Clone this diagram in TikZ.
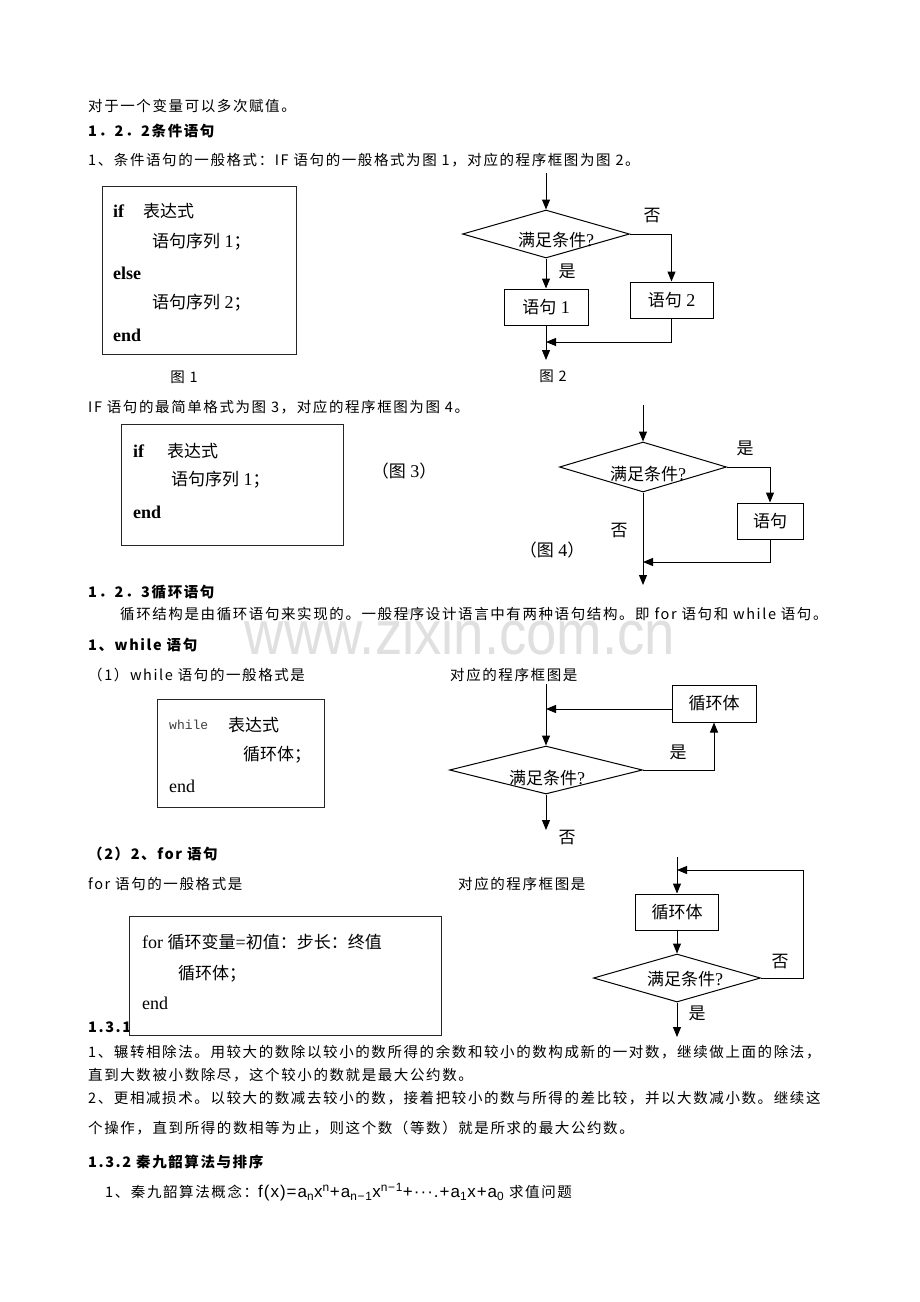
\documentclass[tikz,border=0pt]{standalone}
\usepackage{fontspec}
\setmainfont{Liberation Serif}
\newfontfamily\cjk[LetterSpace=11]{Noto Sans CJK SC}
\newfontfamily\zhfont{Noto Sans CJK SC}
\newfontfamily\wmfont[FakeStretch=0.88]{Liberation Sans}
\newfontfamily\whilefont{Liberation Mono}
\newfontfamily\fxfont[LetterSpace=6]{Liberation Sans}
\usetikzlibrary{shapes.geometric,arrows.meta}

\newcommand\bodyfont{\cjk\fontsize{14.5}{17}\selectfont}
\newcommand\codefont{\fontsize{18}{20}\selectfont}
\newcommand\zh[1]{{\zhfont\fontsize{17}{19}\selectfont #1}}

\begin{document}
\begin{tikzpicture}[x=1pt, y=-1pt,
  txt/.style={anchor=west, inner sep=0pt, font=\bodyfont},
  hd/.style={txt, font=\bodyfont\bfseries},
  code/.style={anchor=west, inner sep=0pt, font=\codefont},
  frame/.style={draw=black!85, line width=.9pt, fill=white, inner sep=0pt},
  stmt/.style={draw, line width=1pt, inner sep=0pt, minimum height=36pt, font=\codefont},
  cond/.style={diamond, draw, line width=1pt, inner sep=0pt, aspect=3.5},
  ctext/.style={inner sep=0pt, font=\codefont},
  lbl/.style={inner sep=0pt, font=\zhfont\fontsize{17}{19}\selectfont},
  arr/.style={line width=1pt, -{Triangle[length=10pt,width=8pt]}}]

\fill[white] (0,0) rectangle (920,1302);
\useasboundingbox (0,0) rectangle (920,1302);

% watermark
\node[inner sep=0pt, text=black!12, font=\wmfont\fontsize{62}{64}\selectfont] (wm) at (460,632) {www.zixin.com.cn};

% --- 1.2.2
\node[txt] (l1) at (88,106) {对于一个变量可以多次赋值。};
\node[hd] (l2) at (88,131) {1．2．2条件语句};
\node[txt] (l3) at (88,160) {1、条件语句的一般格式：IF 语句的一般格式为图 1，对应的程序框图为图 2。};

\node[frame, minimum width=194pt, minimum height=168pt] (box1) at (199,270) {};
\node[code] (b1a) at (113,211) {\textbf{if}};
\node[code] (b1b) at (143,211) {\zh{表达式}};
\node[code] (b1c) at (152,242) {\zh{语句序列} 1\zh{；}};
\node[code] (b1d) at (113,273) {\textbf{else}};
\node[code] (b1e) at (152,303) {\zh{语句序列} 2\zh{；}};
\node[code] (b1f) at (113,335) {\textbf{end}};
\node[txt, anchor=center] (cap1) at (184,377) {图 1};

% figure 2
\coordinate (c2in) at (546,173);
\node[cond, minimum width=167pt, minimum height=48pt] (c2) at (546,234) {};
\node[ctext] (c2t) at (556,240) {\zh{满足条件}?};
\node[stmt, minimum width=84pt] (s21) at (546,307) {\zh{语句} 1};
\node[stmt, minimum width=83pt] (s22) at (671.5,300) {\zh{语句} 2};
\coordinate (c2m) at (546,342);
\coordinate (c2out) at (546,360);
\draw[arr] (c2in) -- (c2.north);
\draw[arr] (c2.south) -- (s21.north);
\draw[arr] (c2.east) -| (s22.north);
\draw[arr] (s21.south) -- (c2out);
\draw[arr] (s22.south) |- (c2m);
\node[lbl] (c2no) at (652,216) {否};
\node[lbl] (c2yes) at (567,271) {是};
\node[txt, anchor=center] (cap2) at (553,376) {图 2};

% --- simplest IF
\node[txt] (l4) at (88,407) {IF 语句的最简单格式为图 3，对应的程序框图为图 4。};
\node[frame, minimum width=222pt, minimum height=121pt] (box3) at (232,484.5) {};
\node[code] (b3a) at (133,451) {\textbf{if}};
\node[code] (b3b) at (167,451) {\zh{表达式}};
\node[code] (b3c) at (171,480) {\zh{语句序列} 1\zh{；}};
\node[code] (b3d) at (133,512) {\textbf{end}};
\node[code, anchor=center] (cap3) at (404,471) {\zh{（图} 3\zh{）}};

% figure 4
\coordinate (c4in) at (643,405);
\node[cond, minimum width=167pt, minimum height=50pt] (c4) at (643,467) {};
\node[ctext] (c4t) at (648,474) {\zh{满足条件}?};
\node[stmt, minimum width=66pt] (s4) at (770,521) {\zh{语句}};
\coordinate (c4m) at (643,562);
\coordinate (c4out) at (643,585);
\draw[arr] (c4in) -- (c4.north);
\draw[arr] (c4.east) -| (s4.north);
\draw[arr] (s4.south) |- (c4m);
\draw[arr] (c4.south) -- (c4out);
\node[lbl] (c4yes) at (745,448) {是};
\node[lbl] (c4no) at (619,531) {否};
\node[code, anchor=center] (cap4) at (552,550) {\zh{（图} 4\zh{）}};

% --- 1.2.3
\node[hd] (l5) at (88,592) {1．2．3循环语句};
\node[txt] (l6) at (120,614) {循环结构是由循环语句来实现的。一般程序设计语言中有两种语句结构。即 for 语句和 while 语句。};
\node[hd] (l7) at (88,645) {1、while 语句};
\node[txt] (l8) at (88,675) {（1）while 语句的一般格式是};
\node[txt] (l9) at (450,675) {对应的程序框图是};

\node[frame, minimum width=167pt, minimum height=108pt] (boxw) at (240.5,753) {};
\node[code, text=black!75, font=\whilefont\fontsize{13}{15}\selectfont] (bwa) at (169,725) {while};
\node[code] (bwb) at (228,725) {\zh{表达式}};
\node[code] (bwc) at (243,755) {\zh{循环体；}};
\node[code] (bwd) at (169,786) {end};

% while chart
\coordinate (win) at (546,684);
\node[cond, minimum width=193pt, minimum height=48pt] (cw) at (546,770) {};
\node[ctext] (cwt) at (547,778) {\zh{满足条件}?};
\node[stmt, minimum width=84pt, minimum height=37pt] (sw) at (714,703.5) {\zh{循环体}};
\coordinate (wmrg) at (546,709);
\coordinate (wout) at (546,830);
\draw[arr] (win) -- (cw.north);
\draw[arr] (sw.west |- wmrg) -- (wmrg);
\draw[arr] (cw.east) -| (sw.south);
\draw[arr] (cw.south) -- (wout);
\node[lbl] (cwyes) at (678,752) {是};
\node[lbl] (cwno) at (567,838) {否};

% for
\node[hd] (l10) at (88,854) {（2）2、for 语句};
\node[txt] (l11) at (88,884) {for 语句的一般格式是};
\node[txt] (l12) at (458,884) {对应的程序框图是};
\node[hd] (l13) at (88,1027) {1.3.1};
\node[frame, minimum width=312pt, minimum height=119pt] (boxf) at (285,975.5) {};
\node[code] (bfa) at (142,942) {for \zh{循环变量}=\zh{初值：步长：终值}};
\node[code] (bfb) at (178,974) {\zh{循环体；}};
\node[code] (bfc) at (142,1003) {end};

% for chart
\coordinate (fin) at (677,857);
\node[stmt, minimum width=83pt] (sf) at (677,912) {\zh{循环体}};
\node[cond, minimum width=167pt, minimum height=48pt] (cf) at (677,978) {};
\node[ctext] (cft) at (685,979) {\zh{满足条件}?};
\coordinate (fmrg) at (677,870);
\coordinate (fout) at (677,1037);
\draw[arr] (fin) -- (sf.north);
\draw[arr] (sf.south) -- (cf.north);
\draw[arr] (cf.east) -- ++(42,0) |- (fmrg);
\draw[arr] (cf.south) -- (fout);
\node[lbl] (cfno) at (780,962) {否};
\node[lbl] (cfyes) at (697,1013) {是};

% --- 1.3
\node[txt] (l14) at (88,1052) {1、辗转相除法。用较大的数除以较小的数所得的余数和较小的数构成新的一对数，继续做上面的除法，};
\node[txt] (l15) at (88,1075) {直到大数被小数除尽，这个较小的数就是最大公约数。};
\node[txt] (l16) at (88,1098) {2、更相减损术。以较大的数减去较小的数，接着把较小的数与所得的差比较，并以大数减小数。继续这};
\node[txt] (l17) at (88,1128) {个操作，直到所得的数相等为止，则这个数（等数）就是所求的最大公约数。};
\node[hd] (l18) at (88,1162) {1.3.2 秦九韶算法与排序};
\node[txt] (l19) at (105,1192) {1、秦九韶算法概念：{\fxfont\fontsize{17}{19}\selectfont f(x)=a\textsubscript{n}x\textsuperscript{n}+a\textsubscript{n−1}x\textsuperscript{n−1}+···.+a\textsubscript{1}x+a\textsubscript{0}} 求值问题};
\end{tikzpicture}
\end{document}
